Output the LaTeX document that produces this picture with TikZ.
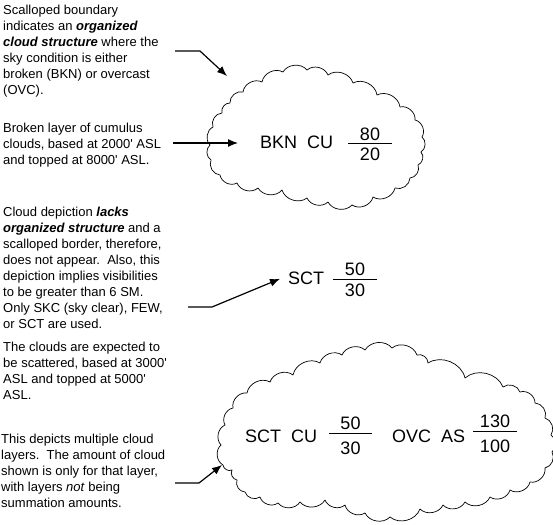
\documentclass[tikz,border=0pt]{standalone}
\usepackage{fontspec}
\setmainfont{Liberation Sans}
\usetikzlibrary{arrows.meta}

\tikzset{
  note/.style={anchor=base west, align=left, inner sep=0pt, font=\fontsize{13}{16}\selectfont},
  code/.style={anchor=base west, inner sep=0pt, font=\fontsize{18}{20}\selectfont},
  num/.style={anchor=base, inner sep=0pt, font=\fontsize{18}{20}\selectfont},
  lead/.style={line width=1.2pt, -{Latex[length=10pt,width=8pt]}},
  bar/.style={line width=1pt},
  puff/.style={bend left=55},
  scallop/.style={line width=0.7pt, line join=round},
}
\newcommand{\bi}[1]{\textbf{\textit{#1}}}
\newcommand{\ft}{\textquotesingle}

\begin{document}
\begin{tikzpicture}[x=1pt, y=-1pt]
  \useasboundingbox[fill=white] (0,0) rectangle (553,524);

  % notes on the left (placed at the baseline of their last line)
  \node[note] (n1) at (3,95) {Scalloped boundary\\indicates an \bi{organized}\\\bi{cloud structure} where the\\sky condition is either\\broken (BKN) or overcast\\(OVC).};
  \node[note] (n2) at (3,164) {Broken layer of cumulus\\clouds, based at 2000\ft{} ASL\\and topped at 8000\ft{} ASL.};
  \node[note] (n3) at (3,328) {Cloud depiction \bi{lacks}\\\bi{organized structure} and a\\scalloped border, therefore,\\does not appear.\ \ Also, this\\depiction implies visibilities\\to be greater than 6 SM.\\Only SKC (sky clear), FEW,\\or SCT are used.};
  \node[note] (n4) at (3,399) {The clouds are expected to\\be scattered, based at 3000\ft\\ASL and topped at 5000\ft\\ASL.};
  \node[note] (n5) at (1,507) {This depicts multiple cloud\\layers.\ \ The amount of cloud\\shown is only for that layer,\\with layers \textit{not} being\\summation amounts.};

  % scalloped clouds
  \draw[scallop] (210,145) to[puff] (213,127) to[puff] (222,113) to[puff] (230,103)
    to[puff] (243,92) to[puff] (262,82) to[puff] (283,72) to[puff] (307,70)
    to[puff] (328,75) to[puff] (353,83) to[puff] (377,95) to[puff] (400,107)
    to[puff] (415,120) to[puff] (422,137) to[puff] (421,152) to[puff] (418,165)
    to[puff] (410,178) to[puff] (395,188) to[puff] (373,197) to[puff] (352,205)
    to[puff] (328,202) to[puff] (307,198) to[puff] (282,190) to[puff] (258,188)
    to[puff] (237,183) to[puff] (220,175) to[puff] (211,160) to[puff] (210,145);
  \draw[scallop] (223,465) to[puff] (221,445) to[puff] (225,425) to[puff] (233,408)
    to[puff] (247,393) to[puff] (270,382) to[puff] (293,375) to[puff] (320,363)
    to[puff] (342,355) to[puff] (365,350) to[puff] (392,348) to[puff] (417,355)
    to[puff] (428,363) to[puff] (465,378) to[puff] (503,387) to[puff] (520,392)
    to[puff] (535,403) to[puff] (545,418) to[puff] (551,435) to[puff] (552,452)
    to[puff] (545,468) to[puff] (530,482) to[puff] (510,490) to[puff] (490,497)
    to[puff] (465,502) to[puff] (443,505) to[puff] (420,509) to[puff] (390,517)
    to[puff] (365,513) to[puff] (345,505) to[puff] (325,500) to[puff] (300,502)
    to[puff] (278,503) to[puff] (260,497) to[puff] (245,492) to[puff] (237,480)
    to[puff] (232,470) to[puff] (223,465);

  % cloud codes
  \node[code] (bkn) at (260,148) {BKN~~CU};
  \draw[bar] (348,143) -- (392,143);
  \node[num] (bkntop) at (370,140) {80};
  \node[num] (bknbase) at (370,160) {20};

  \node[code] (sct) at (288,284) {SCT};
  \draw[bar] (333,279) -- (377,279);
  \node[num] (scttop) at (355,275) {50};
  \node[num] (sctbase) at (355,296) {30};

  \node[code] (sctcu) at (245,442) {SCT~~CU};
  \draw[bar] (329,433) -- (372,433);
  \node[num] (sctcutop) at (350.5,429) {50};
  \node[num] (sctcubase) at (350.5,454) {30};

  \node[code] (ovc) at (392,442) {OVC~~AS};
  \draw[bar] (473,431) -- (517,431);
  \node[num] (ovctop) at (495,427) {130};
  \node[num] (ovcbase) at (495,452) {100};

  % leaders
  \coordinate (a1) at (175,51);
  \coordinate (a1tip) at (227,76);
  \draw[lead] (a1) -- (200,51) -- (a1tip);
  \coordinate (a2) at (173,143);
  \coordinate (a2tip) at (238,143);
  \draw[lead] (a2) -- (a2tip);
  \coordinate (a3) at (188,307);
  \draw[lead] (a3) -- (212,307) -- ([xshift=-8pt,yshift=-1pt]sct.west);
  \coordinate (a5) at (175,483);
  \coordinate (a5tip) at (222,465);
  \draw[lead] (a5) -- (199,483) -- (a5tip);
\end{tikzpicture}
\end{document}
